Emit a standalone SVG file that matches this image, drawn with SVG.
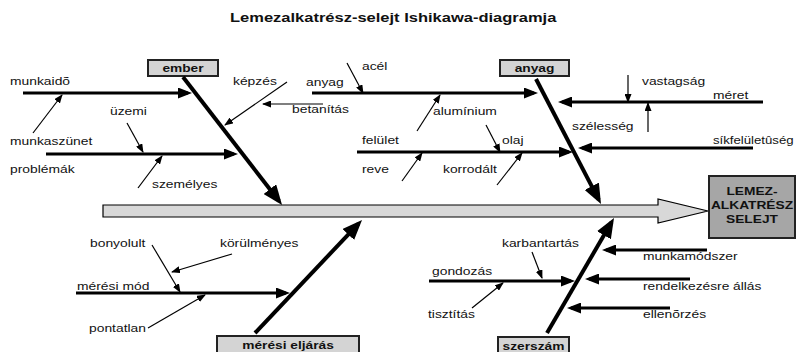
<svg xmlns="http://www.w3.org/2000/svg" width="796" height="352" viewBox="0 0 796 352">
<style>
text{font-family:"Liberation Sans",Arial,sans-serif;font-size:11px;fill:#111}
.b{font-weight:bold}
.t{font-weight:bold;font-size:13px}
.c{text-anchor:middle}
.cat{fill:#d4d4d4;stroke:#222;stroke-width:2}
.bone{stroke:#000;stroke-width:4;fill:none;marker-end:url(#big)}
.sub{stroke:#000;stroke-width:3;fill:none;marker-end:url(#med)}
.thin{stroke:#000;stroke-width:1.2;fill:none;marker-end:url(#sm)}
</style>
<defs>
<marker id="big" markerUnits="userSpaceOnUse" markerWidth="20" markerHeight="16" refX="15" refY="8" orient="auto"><path d="M0,0 L20,8 L0,16 z" fill="#000"/></marker>
<marker id="med" markerUnits="userSpaceOnUse" markerWidth="14" markerHeight="11" refX="10" refY="5.5" orient="auto"><path d="M0,0 L14,5.5 L0,11 z" fill="#000"/></marker>
<marker id="sm" markerUnits="userSpaceOnUse" markerWidth="9" markerHeight="7" refX="8" refY="3.5" orient="auto"><path d="M0,0 L9,3.5 L0,7 z" fill="#000"/></marker>
</defs>
<rect width="796" height="352" fill="#fff"/>
<g id="title"><text class="t" transform="translate(230 22) scale(1.27 1)">Lemezalkatrész-selejt Ishikawa-diagramja</text></g>

<g id="spine"><path d="M103,205 L658,205 L658,199 L708,211 L658,223 L658,217 L103,217 Z" fill="#d8d8d8" stroke="#000" stroke-width="1.2"/></g>

<g id="effect"><rect x="709" y="176" width="86" height="62" fill="#a6a6a6" stroke="#222" stroke-width="2"/>
<text class="b c" transform="translate(752 195) scale(1.25 1)">LEMEZ-</text>
<text class="b c" transform="translate(752 209) scale(1.25 1)">ALKATRÉSZ</text>
<text class="b c" transform="translate(752 223) scale(1.25 1)">SELEJT</text></g>

<g id="ember"><rect class="cat" x="148" y="60" width="70" height="16"/><text class="b c" transform="translate(183 72) scale(1.25 1)">ember</text></g>
<g id="anyag"><rect class="cat" x="500" y="60" width="69" height="16"/><text class="b c" transform="translate(534.5 72) scale(1.25 1)">anyag</text></g>
<g id="meresi-eljaras"><rect class="cat" x="217" y="336" width="142" height="20"/><text class="b c" transform="translate(288 349) scale(1.25 1)">mérési eljárás</text></g>
<g id="szerszam"><rect class="cat" x="498" y="337" width="71" height="20"/><text class="b c" transform="translate(533.5 350) scale(1.25 1)">szerszám</text></g>

<g id="connectors">
<path class="bone" d="M183,77 L279,201"/>
<path class="bone" d="M536,79 L598.7,199.6"/>
<path class="bone" d="M255,333 L358.6,223.6"/>
<path class="bone" d="M547,333 L611.5,222.3"/>

<path class="sub" d="M23,93 L188,93"/>
<path class="sub" d="M46,154 L234,154"/>
<path class="sub" d="M312,93 L534,93"/>
<path class="sub" d="M357,152 L569,152"/>
<path class="sub" d="M763,102 L562,102"/>
<path class="sub" d="M753,148 L582,148"/>
<path class="sub" d="M76,293 L286,293"/>
<path class="sub" d="M429,281 L571,281"/>
<path class="sub" d="M707,250 L606,250"/>
<path class="sub" d="M690,279 L589,279"/>
<path class="sub" d="M670,308 L571,308"/>

<path class="thin" d="M33,133 L62,95"/>
<path class="thin" d="M127,123 L143,152"/>
<path class="thin" d="M138,188 L162,156"/>
<path class="thin" d="M287,82 L225,125"/>
<path class="thin" d="M323,104 L263,104" stroke-width="1.6"/>
<path class="thin" d="M347,63 L363,93"/>
<path class="thin" d="M417,131 L440,95"/>
<path class="thin" d="M486,125 L500,152"/>
<path class="thin" d="M402,181 L422,153"/>
<path class="thin" d="M497,185 L522,153"/>
<path class="thin" d="M628,75 L628,102"/>
<path class="thin" d="M648,132 L648,103"/>
<path class="thin" d="M152,245 L180,292"/>
<path class="thin" d="M232,254 L172,272"/>
<path class="thin" d="M148,328 L205,295"/>
<path class="thin" d="M532,252 L542,278"/>
<path class="thin" d="M472,308 L503,283"/>
</g>

<g id="labels">
<text transform="translate(10 85) scale(1.26 1)">munkaidõ</text>
<text transform="translate(10 145) scale(1.26 1)">munkaszünet</text>
<text transform="translate(10 173) scale(1.26 1)">problémák</text>
<text transform="translate(110 115) scale(1.26 1)">üzemi</text>
<text transform="translate(152 188) scale(1.26 1)">személyes</text>
<text transform="translate(233 85) scale(1.26 1)">képzés</text>
<text transform="translate(292 113) scale(1.26 1)">betanítás</text>
<text transform="translate(306 86) scale(1.26 1)">anyag</text>
<text transform="translate(362 70) scale(1.26 1)">acél</text>
<text transform="translate(433 115) scale(1.26 1)">alumínium</text>
<text transform="translate(362 144) scale(1.26 1)">felület</text>
<text transform="translate(502 144) scale(1.26 1)">olaj</text>
<text transform="translate(362 173) scale(1.26 1)">reve</text>
<text transform="translate(443 173) scale(1.26 1)">korrodált</text>
<text transform="translate(642 85) scale(1.26 1)">vastagság</text>
<text transform="translate(713 99) scale(1.26 1)">méret</text>
<text transform="translate(572 130) scale(1.26 1)">szélesség</text>
<text transform="translate(713 144) scale(1.2 1)">síkfelületûség</text>
<text transform="translate(90 247) scale(1.26 1)">bonyolult</text>
<text transform="translate(220 247) scale(1.26 1)">körülményes</text>
<text transform="translate(77 290) scale(1.26 1)">mérési mód</text>
<text transform="translate(89 332) scale(1.26 1)">pontatlan</text>
<text transform="translate(502 247) scale(1.26 1)">karbantartás</text>
<text transform="translate(432 275) scale(1.26 1)">gondozás</text>
<text transform="translate(428 318) scale(1.26 1)">tisztítás</text>
<text transform="translate(643 260) scale(1.26 1)">munkamódszer</text>
<text transform="translate(643 290) scale(1.25 1)">rendelkezésre állás</text>
<text transform="translate(643 318) scale(1.26 1)">ellenõrzés</text>
</g>
</svg>
